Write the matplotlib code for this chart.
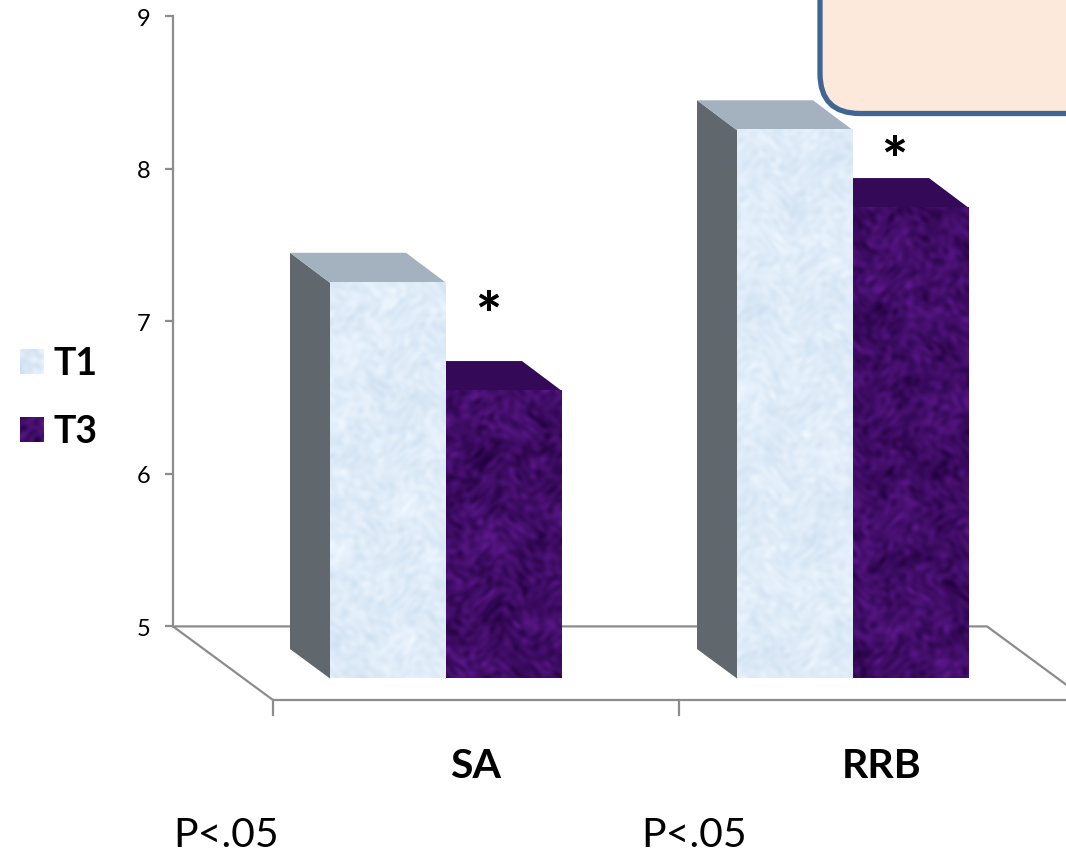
import matplotlib
matplotlib.use('Agg')
import matplotlib.pyplot as plt
import numpy as np
from matplotlib.patches import Polygon, FancyBboxPatch

plt.rcParams['font.family'] = ['Lato', 'DejaVu Sans']

# data
categories = ['SA', 'RRB']
series_names = ['T1', 'T3']
t1_values = [7.45, 8.45]
t3_values = [6.74, 7.94]
y_ticks = [5, 6, 7, 8, 9]
p_labels = ['P<.05', 'P<.05']

W, H = 1066, 854
Y5_PX = 627.4
PX_PER_UNIT = 152.5


def val(px):
    # pixel row -> value on the chart's scale
    return 5 + (Y5_PX - px) / PX_PER_UNIT


def texture(shape, base, amp, seed):
    # mottled look from many crossing waves at scattered angles, not data
    h, w = shape
    yy, xx = np.mgrid[0:h, 0:w]
    wx = xx + 5 * np.sin(0.05 * yy + seed) + 3 * np.sin(0.13 * yy - seed)
    wy = yy + 5 * np.sin(0.06 * xx - seed) + 3 * np.sin(0.11 * xx + seed)
    n = np.zeros((h, w))
    for k in range(40):
        ang = k * 2.39996 + seed
        f = 0.04 + 0.018 * k
        n += np.sin(f * (np.cos(ang) * wx + np.sin(ang) * wy) + 1.7 * k * k + seed) / (1 + 0.03 * k)
    n = n / np.abs(n).max()
    img = np.array(base)[None, None, :] + n[:, :, None] * np.array(amp)[None, None, :]
    return np.clip(img, 0, 1)


LIGHT = ((0.875, 0.925, 0.973), (0.07, 0.05, 0.03))
DARK = ((0.25, 0.05, 0.40), (0.12, 0.05, 0.16))

fig = plt.figure(figsize=(W / 100, H / 100), dpi=100)
ax = fig.add_axes([0, 0, 1, 1])
ax.set_xlim(0, W)
ax.set_ylim(val(H), val(0))
ax.patch.set_alpha(0)
for s in ['top', 'right', 'bottom']:
    ax.spines[s].set_visible(False)
ax.spines['left'].set_position(('data', 173))
ax.spines['left'].set_bounds(5, 9)
ax.spines['left'].set_color('#8c8c8c')
ax.spines['left'].set_linewidth(1.6)
ax.set_xticks([])
ax.set_yticks(y_ticks)
ax.tick_params(axis='y', length=5.5, width=1.6, color='#8c8c8c', labelsize=17, pad=11, labelcolor='black')

# floor
GRAY = '#8c8c8c'
y_front = val(701)
ax.plot([173, 987, 1087], [5, 5, y_front], color=GRAY, lw=1.6, zorder=1)
ax.plot([173, 273, 1087], [5, y_front, y_front], color=GRAY, lw=1.6, zorder=1)
for x in [273, 679]:
    ax.plot([x, x], [y_front, val(716)], color=GRAY, lw=1.6, zorder=1)

# bars
bar_left = [330, 737]
BAR_W = 116
DX, DY = 40, 30 / PX_PER_UNIT
base_back = val(650)
base_front = val(679.5)


def draw_bar(x0, v, tex, side, top, z, seed):
    front_top = v - DY
    ax.add_patch(Polygon([(x0 - DX, base_back), (x0 - DX, v), (x0, front_top), (x0, base_front)], fc=side, ec='none', zorder=z))
    ax.add_patch(Polygon([(x0 - DX, v), (x0 - DX + BAR_W, v), (x0 + BAR_W, front_top), (x0, front_top)], fc=top, ec='none', zorder=z))
    h_px = int((front_top - base_front) * PX_PER_UNIT)
    ax.imshow(texture((h_px, BAR_W), tex[0], tex[1], seed), extent=(x0, x0 + BAR_W, base_front, front_top),
              aspect='auto', interpolation='bilinear', zorder=z + 0.5)


for i in range(len(categories)):
    draw_bar(bar_left[i] + BAR_W, t3_values[i], DARK, '#2e0a4e', '#340a58', 3, 1.7 + i)
    draw_bar(bar_left[i], t1_values[i], LIGHT, '#60676d', '#a4b2c0', 4, 4.1 + i)
ax.set_xlim(0, W)
ax.set_ylim(val(H), val(0))

# everything else sits on a plain pixel overlay
over = fig.add_axes([0, 0, 1, 1])
over.set_xlim(0, W)
over.set_ylim(H, 0)
over.axis('off')

box = FancyBboxPatch((860, -100), 400, 174.5, boxstyle='round,pad=0,rounding_size=40', fc='#fde9db', ec='#3f6592', lw=3.8, zorder=5)
box.set_boxstyle('round', pad=40, rounding_size=40)
over.add_patch(box)

for name, y, tex, seed in zip(series_names, [362.5, 430.5], [LIGHT, DARK], [2.3, 5.1]):
    over.imshow(texture((25, 24), tex[0], tex[1], seed), extent=(20, 44, y + 12.5, y - 12.5), aspect='auto', zorder=5)
    over.text(54, y + 2, name, fontsize=27, fontweight='bold', va='center', ha='left', color='black')
over.set_xlim(0, W)
over.set_ylim(H, 0)

for x, name in zip([476, 882], categories):
    over.text(x, 767, name, fontsize=29.5, fontweight='bold', ha='center', va='center', color='black')
for x, lab in zip([173, 641], p_labels):
    over.text(x, 836, lab, fontsize=29.5, ha='left', va='center', color='black')
for x, y in [(488, 318), (894, 163)]:
    over.text(x, y, '*', fontsize=44, fontweight='black', ha='center', va='center', color='black')

fig.savefig('out.png', dpi=100)
